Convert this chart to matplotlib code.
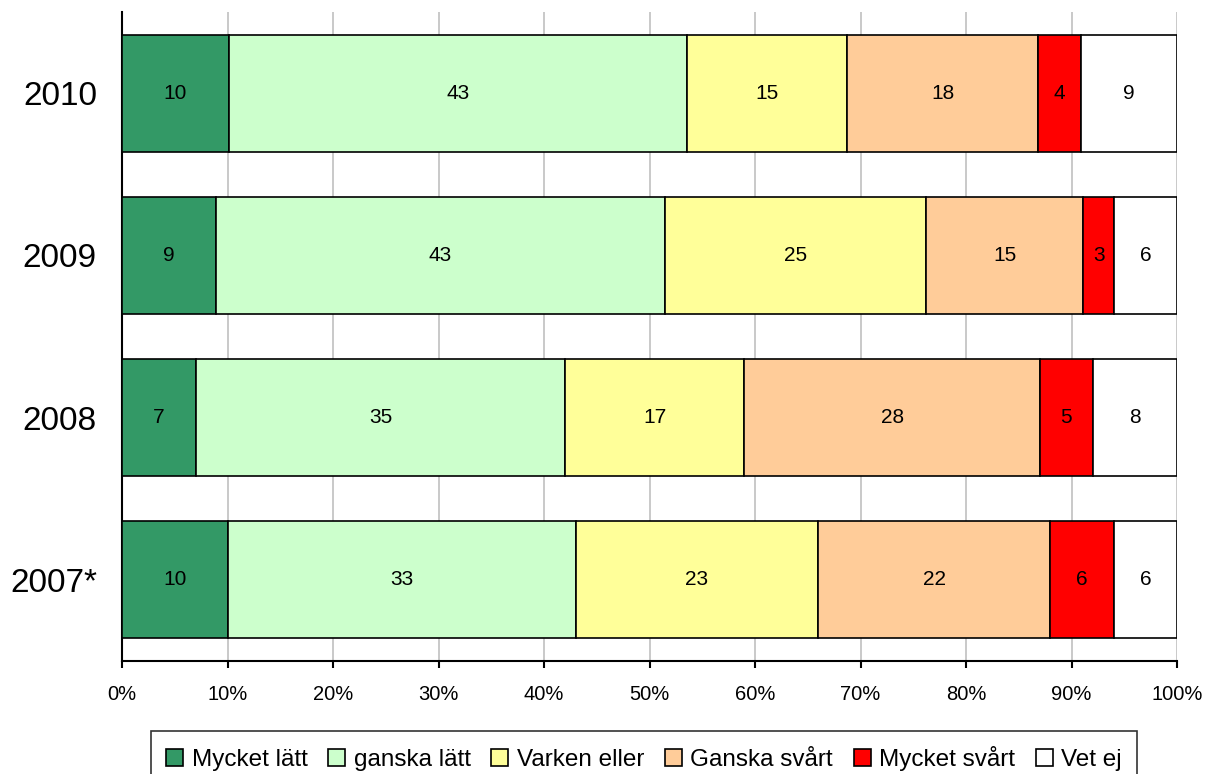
import numpy as np
import matplotlib.pyplot as plt

years = ["2010", "2009", "2008", "2007*"]
categories = ["Mycket lätt", "ganska lätt", "Varken eller", "Ganska svårt", "Mycket svårt", "Vet ej"]
colors = ["#339966", "#CCFFCC", "#FFFF99", "#FFCC99", "#FF0000", "#FFFFFF"]

mycket_latt = [10, 9, 7, 10]
ganska_latt = [43, 43, 35, 33]
varken_eller = [15, 25, 17, 23]
ganska_svart = [18, 15, 28, 22]
mycket_svart = [4, 3, 5, 6]
vet_ej = [9, 6, 8, 6]

plt.rcParams['font.family'] = ['Liberation Sans', 'DejaVu Sans']

data = np.array([mycket_latt, ganska_latt, varken_eller, ganska_svart, mycket_svart, vet_ej], dtype=float)
share = data / data.sum(axis=0) * 100  # normalize to 100 %

fig = plt.figure(figsize=(12.06, 7.74), dpi=100)
ax = fig.add_axes([122 / 1206, 1 - 661 / 774, (1177 - 122) / 1206, (661 - 12) / 774])

y = np.arange(len(years))
left = np.zeros(len(years))
for i, cat in enumerate(categories):
    ax.barh(y, share[i], left=left, height=0.72, color=colors[i],
            edgecolor='black', linewidth=1.2, label=cat, zorder=3)
    for j in range(len(years)):
        ax.text(left[j] + share[i][j] / 2, y[j], f"{int(data[i][j])}",
                ha='center', va='center', fontsize=15, zorder=4)
    left += share[i]

ax.set_xlim(0, 100)
ax.set_ylim(3.5, -0.5)
ax.set_yticks(y)
ax.set_yticklabels(years, fontsize=24)
ax.tick_params(axis='y', length=0, pad=18)
ax.set_xticks(np.arange(0, 101, 10))
ax.set_xticklabels([f"{v}%" for v in range(0, 101, 10)], fontsize=14.5)
ax.tick_params(axis='x', direction='out', length=5, width=1.5, pad=12)
ax.xaxis.grid(True, color='#c0c0c0', linewidth=1.2, zorder=0)
ax.spines['top'].set_visible(False)
ax.spines['right'].set_visible(False)
ax.spines['left'].set_linewidth(1.5)
ax.spines['bottom'].set_linewidth(1.5)

leg = fig.legend(loc='upper center', bbox_to_anchor=(0.534, 1 - 731 / 774), ncol=6,
                 fontsize=17.5, frameon=True, fancybox=False, edgecolor='black',
                 handlelength=0.7, handleheight=0.7, handletextpad=0.35,
                 columnspacing=0.85, borderpad=0.6, borderaxespad=0)
leg.get_frame().set_linewidth(1.2)

fig.savefig("out.png", dpi=100)
